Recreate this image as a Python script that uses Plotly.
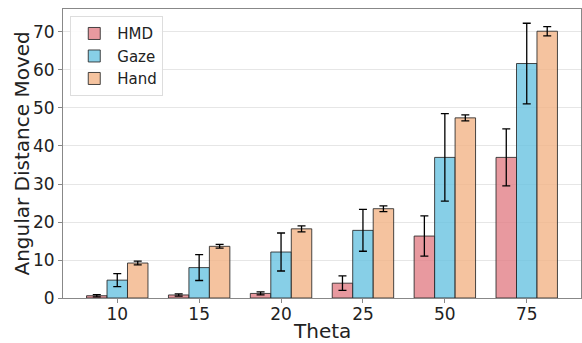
import plotly.graph_objects as go

categories = ["10", "15", "20", "25", "50", "75"]
hmd = [0.6, 0.8, 1.2, 3.9, 16.3, 37.0]
hmd_err = [0.3, 0.3, 0.4, 1.9, 5.3, 7.5]
gaze = [4.7, 8.0, 12.1, 17.8, 37.0, 61.7]
gaze_err = [1.7, 3.4, 5.0, 5.5, 11.5, 10.6]
hand = [9.2, 13.6, 18.2, 23.5, 47.4, 70.2]
hand_err = [0.5, 0.5, 0.8, 0.75, 0.8, 1.2]

series = [
    ("HMD", hmd, hmd_err, "rgba(226,128,135,0.8)"),
    ("Gaze", gaze, gaze_err, "rgba(105,195,225,0.8)"),
    ("Hand", hand, hand_err, "rgba(243,180,135,0.8)"),
]

x = list(range(len(categories)))
fig = go.Figure()
for name, vals, errs, col in series:
    fig.add_trace(go.Bar(
        x=x, y=vals, name=name,
        marker=dict(color=col, line=dict(color="rgba(40,40,40,0.85)", width=1)),
        error_y=dict(type="data", array=errs, visible=True, color="black",
                     thickness=1.3, width=4),
    ))

fig.update_layout(
    width=582, height=343,
    margin=dict(l=63, r=1, t=9, b=45),
    barmode="group", bargap=0.25, bargroupgap=0,
    plot_bgcolor="white", paper_bgcolor="white",
    font=dict(family="DejaVu Sans", color="#222", size=17),
    legend=dict(x=0.014, y=0.975, xanchor="left", yanchor="top",
                bgcolor="rgba(255,255,255,0.85)", bordercolor="#dddddd",
                borderwidth=1, font=dict(size=15), tracegroupgap=0,
                itemwidth=36),
    showlegend=True,
    annotations=[
        dict(text="Angular Distance Moved", xref="paper", yref="paper",
             x=0, y=0.5, xanchor="center", yanchor="middle", xshift=-42,
             textangle=-90, showarrow=False, font=dict(size=20)),
        dict(text="Theta", xref="paper", yref="paper",
             x=0.5, y=0, xanchor="center", yanchor="middle", yshift=-33,
             showarrow=False, font=dict(size=20)),
    ],
)
fig.update_xaxes(
    tickmode="array", tickvals=x, ticktext=categories,
    range=[-0.6625, 5.6625], automargin=False, ticklabelstandoff=-3,
    showline=True, linecolor="#888", mirror=True, linewidth=1,
    ticks="outside", ticklen=4, tickcolor="#888", showgrid=False,
    zeroline=False,
)
fig.update_yaxes(
    range=[0, 76.05], tickmode="array", tickvals=[0, 10, 20, 30, 40, 50, 60, 70],
    automargin=False,
    showline=True, linecolor="#888", mirror=True, linewidth=1,
    ticks="outside", ticklen=4, tickcolor="#888",
    showgrid=True, gridcolor="#e6e6e6", gridwidth=1, zeroline=False,
)
fig.write_html("out.html", config={"displayModeBar": False})

with open("out.html", "r", encoding="utf-8") as f:
    html = f.read()
html = html.replace("<body>", '<body style="margin:0;padding:0;overflow:hidden">', 1)
with open("out.html", "w", encoding="utf-8") as f:
    f.write(html)
